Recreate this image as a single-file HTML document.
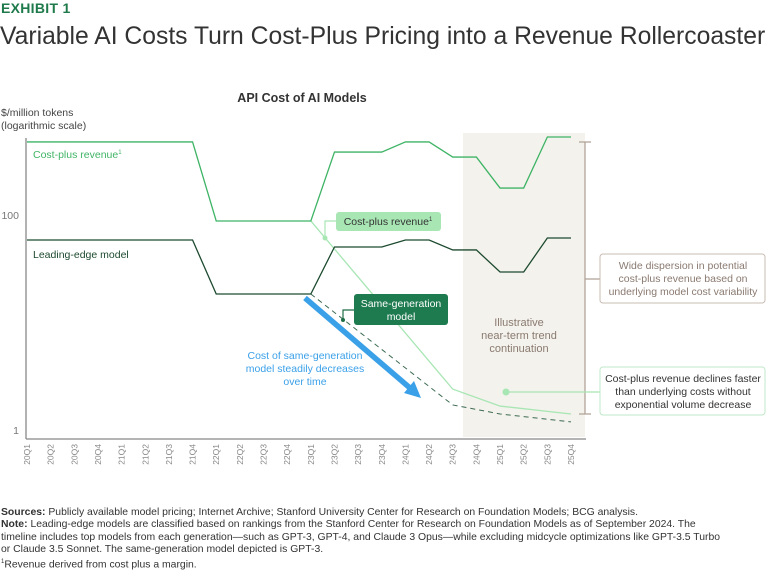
<!DOCTYPE html>
<html><head><meta charset="utf-8">
<style>
body{margin:0;width:768px;height:577px;background:#fff;font-family:"Liberation Sans",sans-serif;overflow:hidden;position:relative}
.abs{position:absolute}
.note{font-size:10.4px;color:#333;line-height:12.3px;white-space:nowrap}
</style></head><body>
<div class="abs" style="left:1px;top:0px;font-size:14px;font-weight:bold;color:#1e7a4a;letter-spacing:0.3px">EXHIBIT 1</div>
<div class="abs" style="left:0px;top:23px;font-size:24.7px;color:#333;white-space:nowrap">Variable AI Costs Turn Cost-Plus Pricing into a Revenue Rollercoaster</div>
<svg class="abs" style="left:0;top:0" width="768" height="500" font-family="Liberation Sans, sans-serif">
<text x="302" y="102" font-size="12.5" font-weight="bold" fill="#333" text-anchor="middle">API Cost of AI Models</text>
<text x="1" y="116" font-size="10.5" fill="#444">$/million tokens</text>
<text x="1" y="129" font-size="10.5" fill="#444">(logarithmic scale)</text>
<rect x="463" y="133" width="122" height="304" fill="#f3f2ec"/>
<text text-anchor="middle" font-size="11" fill="#8a7a70"><tspan x="519" y="326">Illustrative</tspan><tspan x="519" y="339">near-term trend</tspan><tspan x="519" y="352">continuation</tspan></text>
<g id="axes"></g>
<g id="series"></g>
<g stroke="#b3a49a" stroke-width="1.3" fill="none">
<line x1="585" y1="142" x2="585" y2="414"/><line x1="579" y1="142" x2="591" y2="142"/><line x1="579" y1="414" x2="591" y2="414"/><line x1="585" y1="279" x2="600" y2="279"/></g>
<rect x="600" y="254" width="165" height="49" rx="3" fill="#fff" stroke="#c9bcb3"/>
<text text-anchor="middle" font-size="10.5" fill="#8a7a70"><tspan x="683" y="269">Wide dispersion in potential</tspan><tspan x="683" y="282">cost-plus revenue based on</tspan><tspan x="683" y="295">underlying model cost variability</tspan></text>
<line x1="506" y1="392" x2="600" y2="392" stroke="#a8e6b4" stroke-width="1.2"/>
<circle cx="506" cy="392" r="3.5" fill="#a8e6b4"/>
<rect x="600" y="367" width="165" height="48" rx="3" fill="#fff" stroke="#bfe8c8"/>
<text text-anchor="middle" font-size="10.5" fill="#333"><tspan x="683" y="382">Cost-plus revenue declines faster</tspan><tspan x="683" y="395">than underlying costs without</tspan><tspan x="683" y="408">exponential volume decrease</tspan></text>
<text x="33" y="158" font-size="10.5" fill="#3fb466">Cost-plus revenue<tspan font-size="6" dy="-4">1</tspan></text>
<text x="33" y="258" font-size="10.5" fill="#1d4a2f">Leading-edge model</text>
<polyline points="325,238 325,221 336,221" fill="none" stroke="#a8e6b4" stroke-width="1.2"/>
<circle cx="325" cy="238" r="2.5" fill="#a8e6b4"/>
<rect x="336" y="212" width="105" height="19" rx="3" fill="#a8e6b4"/>
<text x="388" y="225" font-size="10.5" fill="#333" text-anchor="middle">Cost-plus revenue<tspan font-size="6" dy="-4">1</tspan></text>
<polyline points="343,320 343,310 354,310" fill="none" stroke="#1f6e47" stroke-width="1.2"/>
<circle cx="343" cy="320" r="2" fill="#1f6e47"/>
<rect x="354" y="294" width="94" height="31" rx="3" fill="#1e7a4f"/>
<text text-anchor="middle" font-size="10.5" fill="#fff"><tspan x="401" y="307">Same-generation</tspan><tspan x="401" y="320">model</tspan></text>
<line x1="305" y1="298" x2="410" y2="388" stroke="#3aa0e8" stroke-width="5.5"/>
<polygon points="421,398 404,393 414,381" fill="#3aa0e8"/>
<text text-anchor="middle" font-size="10.5" fill="#3aa0e8"><tspan x="305" y="359">Cost of same-generation</tspan><tspan x="305" y="372">model steadily decreases</tspan><tspan x="305" y="385">over time</tspan></text>
</svg>
<div class="abs note" style="left:1px;top:507px;width:766px">
<b>Sources:</b> Publicly available model pricing; Internet Archive; Stanford University Center for Research on Foundation Models; BCG analysis.<br>
<b>Note:</b> Leading-edge models are classified based on rankings from the Stanford Center for Research on Foundation Models as of September 2024. The<br>timeline includes top models from each generation—such as GPT-3, GPT-4, and Claude 3 Opus—while excluding midcycle optimizations like GPT-3.5 Turbo<br>or Claude 3.5 Sonnet. The same-generation model depicted is GPT-3.<br>
<sup style="font-size:6px">1</sup>Revenue derived from cost plus a margin.</div>
<script>
const quarters=["20Q1","20Q2","20Q3","20Q4","21Q1","21Q2","21Q3","21Q4","22Q1","22Q2","22Q3","22Q4","23Q1","23Q2","23Q3","23Q4","24Q1","24Q2","24Q3","24Q4","25Q1","25Q2","25Q3","25Q4"];
const costPlus=[478,478,478,478,478,478,478,478,88,88,88,88,88,385,385,385,478,478,346,346,178,178,532,532];
const leadingEdge=[58.5,58.5,58.5,58.5,58.5,58.5,58.5,58.5,18.4,18.4,18.4,18.4,18.4,50.4,50.4,50.4,58.5,58.5,47.3,47.3,29.5,29.5,61.1,61.1];
const declineIdx=[12,18,20,23];
const declineRevenue=[88,2.4,1.67,1.41];
const sameGenCost=[18.4,1.71,1.41,1.19];
const yTicks=[1,100];
const NS="http://www.w3.org/2000/svg";
const X=i=>27+i*(544/23);
const Y=v=>430-107.5*Math.log10(v);
const ax=document.getElementById('axes'),se=document.getElementById('series');
function mk(t,a,p){const e=document.createElementNS(NS,t);for(const k in a)e.setAttribute(k,a[k]);p.appendChild(e);return e;}
let yl=mk('line',{x1:26,y1:138,x2:26,y2:439,stroke:'#888','stroke-width':1.3},ax);


let xl=mk('line',{x1:26,y1:439,x2:586,y2:439,stroke:'#888','stroke-width':1.3},ax);


yTicks.forEach(v=>{const t=mk('text',{x:19,y:Y(v)+4,'font-size':10.5,fill:'#777','text-anchor':'end'},ax);t.textContent=v;

});
quarters.forEach((q,i)=>{const t=mk('text',{transform:`translate(${X(i)+3},444) rotate(-90)`,'font-size':8.5,fill:'#888','text-anchor':'end'},ax);t.textContent=q;

});
function line(idx,vals,attrs,name){const p=mk('polyline',Object.assign({points:vals.map((v,k)=>X(idx[k])+','+Y(v)).join(' '),fill:'none'},attrs),se);

}
const all=quarters.map((_,i)=>i);
line(declineIdx,declineRevenue,{stroke:'#a8e6b4','stroke-width':1.3},'declining-revenue-line');
line(declineIdx,sameGenCost,{stroke:'#3d6b52','stroke-width':1,'stroke-dasharray':'5,4'},'same-generation-line');
line(all,costPlus,{stroke:'#3fb466','stroke-width':1.3},'cost-plus-line');
line(all,leadingEdge,{stroke:'#1d4a2f','stroke-width':1.3},'leading-edge-line');
</script>
</body></html>
